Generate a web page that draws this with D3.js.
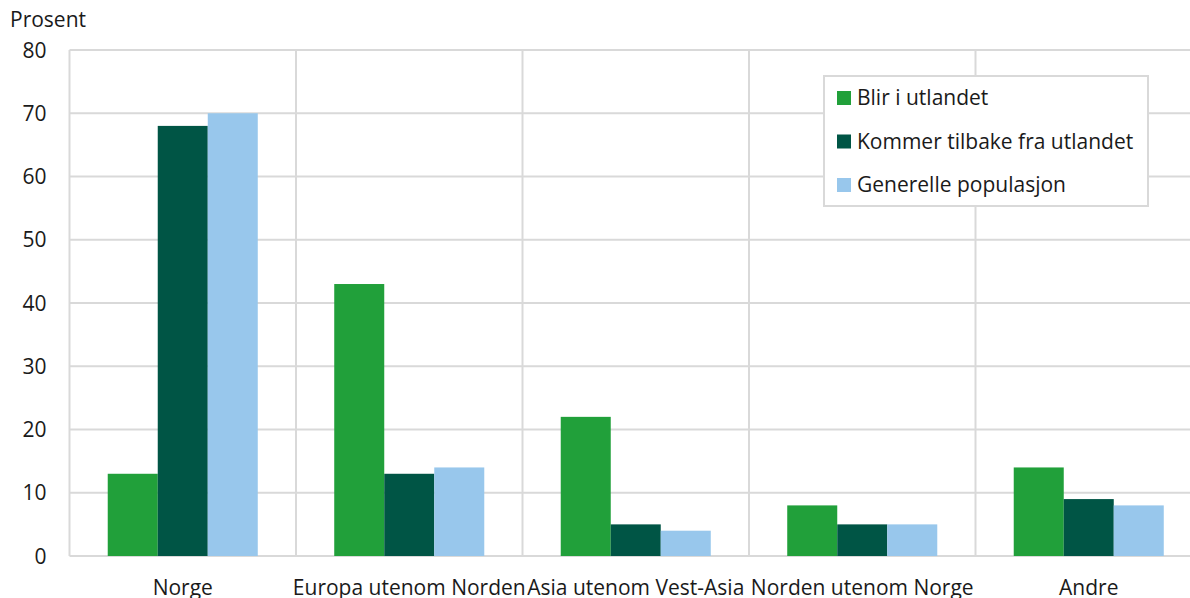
<!DOCTYPE html>
<html><head><meta charset="utf-8">
<script src="https://cdn.jsdelivr.net/npm/d3@7"></script>
<style>body{margin:0;background:#fff;overflow:hidden}svg{display:block;font-family:"Open Sans",sans-serif}</style>
</head><body>
<svg id="c" width="1190" height="598"></svg>
<script>
const categories = ["Norge","Europa utenom Norden","Asia utenom Vest-Asia","Norden utenom Norge","Andre"];
const seriesNames = ["Blir i utlandet","Kommer tilbake fra utlandet","Generelle populasjon"];
const blir = [13,43,22,8,14];
const kommer = [68,13,5,5,9];
const generelle = [70,14,4,5,8];
const yTicks = [0,10,20,30,40,50,60,70,80];
const colors = ["#21a03a","#005545","#98c7ec"];
const series = [blir,kommer,generelle];

(function(){
const svg = d3.select("#c");
const mL = 69.5, mR = 1202, mT = 50, mB = 556;
const fs = 21;
const x = d3.scaleBand().domain(categories).range([mL,mR]).paddingInner(0).paddingOuter(0);
const y = d3.scaleLinear().domain([0,80]).range([mB,mT]);
const barW = x.bandwidth()*0.2208;
const x1 = d3.scaleBand().domain(d3.range(3)).range([0,barW*3]);
const grid = "#d9d9d9";

svg.append("g").selectAll("line").data(yTicks).join("line")
  .attr("x1",mL).attr("x2",mR).attr("y1",d=>y(d)).attr("y2",d=>y(d))
  .attr("stroke",grid).attr("stroke-width",2);
svg.append("g").selectAll("line").data(categories).join("line")
  .attr("x1",d=>x(d)).attr("x2",d=>x(d)).attr("y1",mT).attr("y2",mB)
  .attr("stroke",grid).attr("stroke-width",2);
svg.append("line").attr("x1",mR).attr("x2",mR).attr("y1",mT).attr("y2",mB).attr("stroke",grid).attr("stroke-width",2);

series.forEach((s,i)=>{
  svg.append("g").selectAll("rect").data(s).join("rect")
    .attr("x",(d,j)=>x(categories[j]) + (x.bandwidth()-barW*3)/2 + x1(i))
    .attr("width",x1.bandwidth())
    .attr("y",d=>y(d)).attr("height",d=>y(0)-y(d))
    .attr("fill",colors[i]);
});

const ya = svg.append("g").attr("transform",`translate(${mL-23},0)`)
  .call(d3.axisLeft(y).tickValues(yTicks).tickSize(0).tickPadding(0));
ya.select(".domain").remove();
ya.selectAll("text").attr("font-size",fs).attr("fill","#1a1a1a").attr("font-family","Open Sans").attr("dy","0.34em");

const xa = svg.append("g").attr("transform",`translate(0,${mB})`)
  .call(d3.axisBottom(x).tickSize(0).tickPadding(0));
xa.select(".domain").remove();
xa.selectAll("text").attr("font-size",fs).attr("fill","#1a1a1a").attr("font-family","Open Sans").attr("y",39).attr("dy",0);

svg.append("text").attr("x",10).attr("y",27).attr("font-size",fs).attr("fill","#1a1a1a").text("Prosent");

const lg = svg.append("g");
lg.append("rect").attr("x",824).attr("y",76).attr("width",324).attr("height",130)
  .attr("fill","#fff").attr("stroke",grid).attr("stroke-width",2);
seriesNames.forEach((n,i)=>{
  const cy = 98 + i*43.5;
  lg.append("rect").attr("x",837).attr("y",cy-7).attr("width",14).attr("height",14).attr("fill",colors[i]);
  lg.append("text").attr("x",857).attr("y",cy).attr("dy","0.34em").attr("font-size",fs).attr("fill","#1a1a1a").text(n);
});
})();
</script>
</body></html>
